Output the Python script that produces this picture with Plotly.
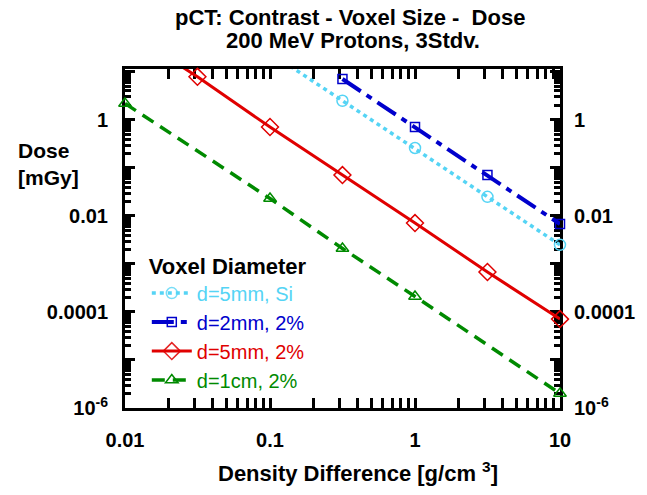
import plotly.graph_objects as go

# Data
x_si5 = [0.1, 0.316, 1.0, 3.16, 10.0]
y_si5 = [25.0, 2.5, 0.26, 0.025, 0.0025]

x_2mm = [0.316, 1.0, 3.16, 10.0]
y_2mm = [7.1, 0.71, 0.071, 0.0068]

x_5mm = [0.01, 0.0316, 0.1, 0.316, 1.0, 3.16, 10.0]
y_5mm = [75.0, 7.9, 0.71, 0.071, 0.0071, 0.00068, 0.000071]

x_1cm = [0.01, 0.1, 0.316, 1.0, 10.0]
y_1cm = [2.2, 0.023, 0.0021, 0.00021, 0.000002]

names = ["d=5mm, Si", "d=2mm, 2%", "d=5mm, 2%", "d=1cm, 2%"]
colors = ["#55D4F5", "#0000CC", "#E00000", "#008A00"]
dashes = ["4px,4px", "22px,7px,6px,7px", "solid", "13px,8px"]
widths = [3.5, 4, 3, 3.5]
symbols = ["circle-open", "square-open", "diamond-open", "triangle-up-open"]
msizes = [11, 9, 13, 11]
xs = [x_si5, x_2mm, x_5mm, x_1cm]
ys = [y_si5, y_2mm, y_5mm, y_1cm]

ytick_vals = [1e-6, 1e-5, 1e-4, 1e-3, 1e-2, 1e-1, 1, 10]
ytick_text = ["10<sup>-6</sup>", "", "0.0001", "", "0.01", "", "1", ""]
xtick_vals = [0.01, 0.1, 1, 10]
xtick_text = ["0.01", "0.1", "1", "10"]

FONT = "Liberation Sans, Arial, sans-serif"
YMAX_LOG = 1.06

x_minor = [m * 10.0 ** e for e in range(-2, 1) for m in range(2, 10)]
y_minor = [m * 10.0 ** e for e in range(-6, 2) for m in range(2, 10)]

fig = go.Figure()
for xv, yv, n, c, d, w, s, ms in zip(xs, ys, names, colors, dashes, widths, symbols, msizes):
    # hide markers of points that lie above the plotted range (line still drawn, clipped)
    op = [0 if v > 10 ** YMAX_LOG else 1 for v in yv]
    fig.add_trace(go.Scatter(
        x=xv, y=yv, mode="lines+markers", cliponaxis=False,
        name=f"<span style='color:{c}'>{n}</span>",
        line=dict(color=c, width=w, dash=d),
        marker=dict(symbol=s, size=ms, color=c, opacity=op, line=dict(width=1.5, color=c)),
    ))

# invisible trace for right axis labels
fig.add_trace(go.Scatter(x=[0.01], y=[1], yaxis="y2", mode="markers",
                         marker=dict(opacity=0), showlegend=False, hoverinfo="skip"))

axis_common = dict(
    showline=True, linecolor="black", linewidth=3,
    ticks="inside", tickcolor="black", tickwidth=2.5, ticklen=10,
    showgrid=False, zeroline=False, mirror="allticks", layer="below traces",
    tickfont=dict(family=FONT, size=20, color="black", weight="bold"),
)
minor_x = dict(tickmode="array", tickvals=x_minor, ticks="inside", ticklen=6,
               tickwidth=2.5, tickcolor="black", showgrid=False)
minor_y = dict(tickmode="array", tickvals=y_minor, ticks="inside", ticklen=6,
               tickwidth=2.5, tickcolor="black", showgrid=False)

PL, PR, PT, PB = 125, 83, 69, 87
W, H = 647, 495
pw, ph = W - PL - PR, H - PT - PB


def px_x(p):
    return (p - PL) / pw


def px_y(p):
    return (H - PB - p) / ph


title_font = dict(family=FONT, size=22, color="black", weight="bold")

fig.update_layout(
    width=W, height=H,
    margin=dict(l=PL, r=PR, t=PT, b=PB),
    paper_bgcolor="white", plot_bgcolor="white",
    font=dict(family=FONT, color="black"),
    showlegend=True,
    xaxis=dict(
        type="log", range=[-2, 1], tickvals=xtick_vals, ticktext=xtick_text,
        ticklabelstandoff=12, minor=minor_x, **axis_common,
    ),
    yaxis=dict(
        type="log", range=[-6, YMAX_LOG], tickvals=ytick_vals, ticktext=ytick_text,
        ticklabelstandoff=10, minor=minor_y, **axis_common,
    ),
    yaxis2=dict(
        type="log", range=[-6, YMAX_LOG], tickvals=ytick_vals, ticktext=ytick_text,
        overlaying="y", side="right", ticks="", showline=False, showgrid=False,
        zeroline=False, ticklabelstandoff=13,
        tickfont=dict(family=FONT, size=20, color="black", weight="bold"),
    ),
    legend=dict(
        x=px_x(147), y=px_y(245), xanchor="left", yanchor="top",
        bgcolor="rgba(0,0,0,0)", tracegroupgap=0, itemwidth=40,
        title=dict(text="Voxel Diameter", font=title_font),
        font=dict(family=FONT, size=20),
    ),
    annotations=[
        dict(text="pCT: Contrast - Voxel Size -  Dose", xref="paper", yref="paper",
             x=px_x(352), y=px_y(17), xanchor="center", yanchor="middle",
             showarrow=False, font=title_font),
        dict(text="200 MeV Protons, 3Stdv.", xref="paper", yref="paper",
             x=px_x(355), y=px_y(40), xanchor="center", yanchor="middle",
             showarrow=False, font=title_font),
        dict(text="Dose<br>[mGy]", xref="paper", yref="paper",
             x=px_x(15), y=px_y(164), xanchor="left", yanchor="middle", align="left",
             showarrow=False, font=dict(family=FONT, size=21, color="black", weight="bold")),
        dict(text="Density Difference [g/cm <sup>3</sup>]", xref="paper", yref="paper",
             x=px_x(360), y=px_y(472), xanchor="center", yanchor="middle",
             showarrow=False, font=title_font),
    ],
)

fig.write_html("out.html")
